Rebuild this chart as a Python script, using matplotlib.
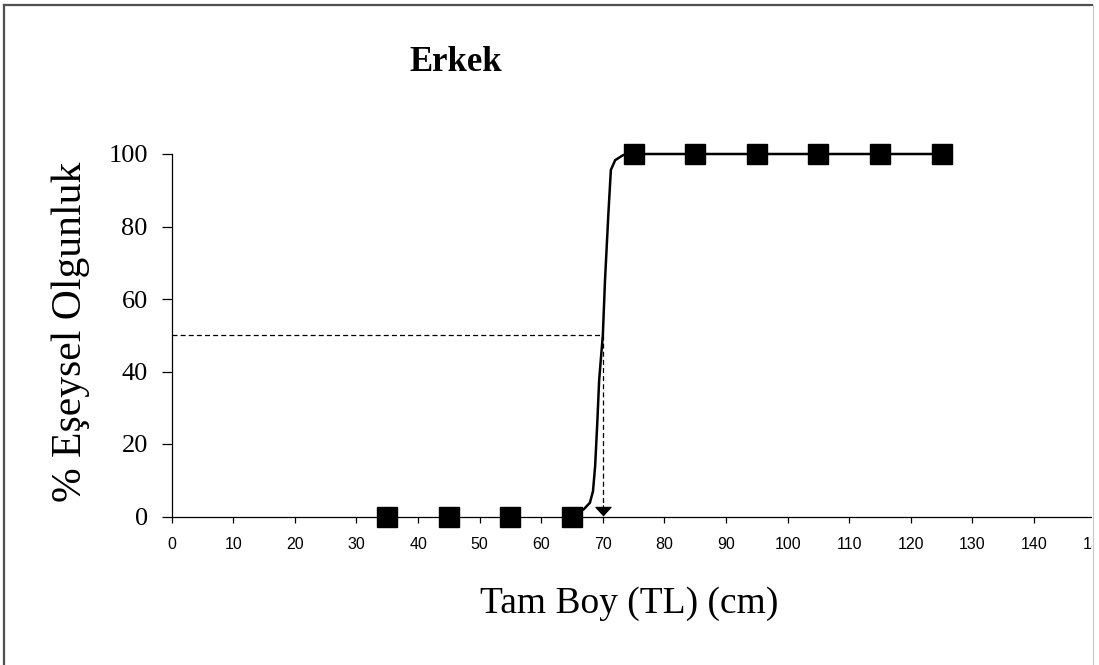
import numpy as np
import matplotlib
matplotlib.use("Agg")
import matplotlib.pyplot as plt
from matplotlib import font_manager
from matplotlib.lines import Line2D
#
# -----------------------------------------------------------------------------
#
""" Data read from the chart """
# observed maturity (%) by total length class (cm)
length_obs = [35, 45, 55, 65, 75, 85, 95, 105, 115, 125]
mature_obs = [0, 0, 0, 0, 100, 100, 100, 100, 100, 100]

# fitted curve, points
length_fit = [65, 66.9, 67.9, 68.4, 68.75, 69.1, 69.4, 70.0, 70.35, 70.9, 71.3,
              72.0, 73.3, 75, 85, 95, 105, 115, 125]
mature_fit = [0, 2.0, 3.8, 7.0, 14.0, 26.0, 37.7, 50.1, 65.2, 83.6, 95.6,
              98.3, 99.7, 100, 100, 100, 100, 100, 100]

L50 = 70.1          # length at 50 % maturity
x_ticks = list(range(0, 151, 10))
y_ticks = list(range(0, 101, 20))

title = "Erkek"
x_label = "Tam Boy (TL) (cm)"
y_label = "% Eşeysel Olgunluk"
#
# -----------------------------------------------------------------------------
#
""" Fonts """
installed = {f.name for f in font_manager.fontManager.ttflist}
serif = "Liberation Serif"
if "Liberation Sans Narrow" in installed:
    narrow, narrow_size = "Liberation Sans Narrow", 12
else:
    narrow, narrow_size = "Liberation Sans", 11.5
#
# -----------------------------------------------------------------------------
#
""" Plot """
W, H = 1099, 665
fig = plt.figure(figsize=(W / 100, H / 100), dpi=100)

# axes placed in pixels: x 0 -> 171.7 px, 150 -> 1095.6 px ; y 0 -> 516.5 px, 100 -> 154 px
ax = fig.add_axes([171.7 / W, 1 - 516.5 / H, (1095.6 - 171.7) / W, (516.5 - 154) / H])
ax.set_xlim(0, 150)
ax.set_ylim(0, 100)

# dashed guide lines for L50
ax.plot([0, L50], [50, 50], color='black', lw=0.9, dashes=(4, 2.5))
ax.plot([L50, L50], [50, 3], color='black', lw=0.9, dashes=(4, 2.5))
ax.annotate('', xy=(L50, 0), xytext=(L50, 3),
            arrowprops=dict(arrowstyle='-|>,head_length=0.6,head_width=0.55',
                            color='black', lw=0.8, shrinkA=0, shrinkB=0,
                            mutation_scale=10))

# fitted curve and observed points
ax.plot(length_fit, mature_fit, color='black', lw=1.8, zorder=3, clip_on=False)
ax.plot(length_obs, mature_obs, linestyle='none', marker='s', markersize=14.4,
        color='black', zorder=4, clip_on=False)

# axes look
for s in ['top', 'right']:
    ax.spines[s].set_visible(False)
for s in ['left', 'bottom']:
    ax.spines[s].set_linewidth(0.9)
    ax.spines[s].set_color('black')

ax.set_xticks(x_ticks)
ax.set_yticks(y_ticks)
ax.tick_params(axis='y', length=7.2, width=0.9, pad=10, labelsize=19)
ax.tick_params(axis='x', length=4.5, width=0.9, pad=10, labelsize=narrow_size)
for lab in ax.get_yticklabels():
    lab.set_family(serif)
for lab in ax.get_xticklabels():
    lab.set_family(narrow)

# texts in pixel positions
fig.text(455.5 / W, 1 - 71 / H, title, family=serif, fontweight='bold',
         fontsize=25, ha='center', va='baseline')
fig.text(629 / W, 1 - 613 / H, x_label, family=serif, fontsize=27,
         ha='center', va='baseline')
fig.text(81 / W, 1 - 331.7 / H, y_label, family=serif, fontsize=30,
         rotation=90, rotation_mode='anchor', ha='center', va='baseline')

# outer frame of the original picture (only top, left and right edge visible)
fig.add_artist(plt.Rectangle((1092 / W, 0), (W - 1092) / W, 1, transform=fig.transFigure,
                             facecolor='white', edgecolor='none', zorder=10))
fig.add_artist(Line2D([4 / W, 1092 / W], [1 - 5 / H, 1 - 5 / H], transform=fig.transFigure,
                      color='#505050', lw=1.6, zorder=11))
fig.add_artist(Line2D([4 / W, 4 / W], [0, 1 - 5 / H], transform=fig.transFigure,
                      color='#505050', lw=1.6, zorder=11))
fig.add_artist(Line2D([1092.5 / W, 1092.5 / W], [0, 1 - 5 / H], transform=fig.transFigure,
                      color='#c8c8c8', lw=0.8, zorder=11))

fig.savefig('out.png', dpi=100)
